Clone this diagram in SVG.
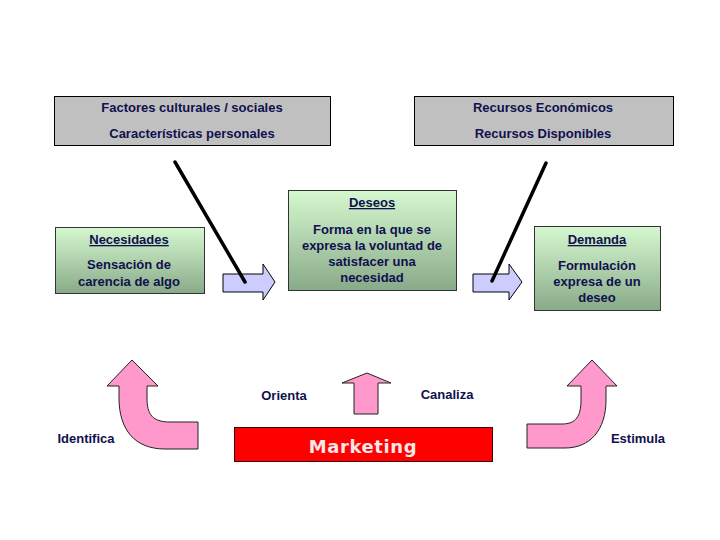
<svg xmlns="http://www.w3.org/2000/svg" width="720" height="540" viewBox="0 0 720 540">
<defs>
<linearGradient id="gr" x1="0" y1="0" x2="0" y2="1">
<stop offset="0" stop-color="#d6f8d0"/>
<stop offset="1" stop-color="#88aa88"/>
</linearGradient>
<style>
text{font-family:"Liberation Sans",Arial,sans-serif;font-weight:bold;font-size:13px;fill:#10104e;text-anchor:middle}
.gray{fill:#c0c0c0;stroke:#000;stroke-width:1}
.green{fill:url(#gr);stroke:#333;stroke-width:1}
.blk{fill:#ccccff;stroke:#000;stroke-width:1}
.pink{fill:#ff99cc;stroke:#222;stroke-width:1}
.u{text-decoration:underline}
.ln{stroke:#000;stroke-width:3.5;stroke-linecap:round;fill:none}
</style>
</defs>
<rect width="720" height="540" fill="#fff"/>
<g id="factores">
<rect class="gray" x="54.5" y="96.5" width="276" height="49"/>
<text x="192" y="112">Factores culturales / sociales</text>
<text x="192" y="138">Características personales</text>
</g>
<g id="recursos">
<rect class="gray" x="414.5" y="96.5" width="259" height="49"/>
<text x="543" y="112">Recursos Económicos</text>
<text x="543" y="138">Recursos Disponibles</text>
</g>
<g id="necesidades">
<rect class="green" x="55.5" y="227.5" width="149" height="66"/>
<text class="u" x="129" y="244">Necesidades</text>
<text x="129" y="269">Sensación de</text>
<text x="129" y="286">carencia de algo</text>
</g>
<g id="deseos">
<rect class="green" x="288.5" y="190.5" width="168" height="100"/>
<text class="u" x="372" y="207">Deseos</text>
<text x="372" y="234">Forma en la que se</text>
<text x="372" y="250">expresa la voluntad de</text>
<text x="372" y="266">satisfacer una</text>
<text x="372" y="282">necesidad</text>
</g>
<g id="demanda">
<rect class="green" x="534.5" y="226.5" width="126" height="84"/>
<text class="u" x="597" y="244">Demanda</text>
<text x="597" y="270">Formulación</text>
<text x="597" y="286">expresa de un</text>
<text x="597" y="302">deseo</text>
</g>
<g id="marketing">
<rect x="234.5" y="427.5" width="258" height="34" fill="#ff0000" stroke="#400" stroke-width="1"/>
<text x="363" y="453" style="font-family:'DejaVu Sans',sans-serif;font-size:18px;fill:#f4e8e8;letter-spacing:0.6px">Marketing</text>
</g>
<g id="labels">
<text x="284" y="400">Orienta</text>
<text x="447" y="399">Canaliza</text>
<text x="86" y="443">Identifica</text>
<text x="638" y="443">Estimula</text>
</g>
<g id="connectors">
<path class="blk" d="M223,274 H263 V264 L275,282 L263,300 V292 H223 Z"/>
<path class="blk" d="M473,274 H509 V264 L522,282 L509,300 V292 H473 Z"/>
<path class="pink" d="M132,360 L158,386 L147,386 L147,398 C147,414 152,422 170,422 L198,422 L198,449 L165,449 C135,449 119,430 119,398 L119,386 L107,386 Z"/>
<path class="pink" d="M592,360 L617,386 L606,386 L606,400 C606,430 590,448 565,448 L527,448 L527,424 L562,424 C576,424 581,416 581,400 L581,386 L567,386 Z"/>
<path class="pink" d="M367,373 L391,383 L378,383 L378,414 L354,414 L354,383 L342,383 Z"/>
<line class="ln" x1="175" y1="162" x2="245" y2="282"/>
<line class="ln" x1="546" y1="163" x2="492" y2="281"/>
</g>
</svg>
